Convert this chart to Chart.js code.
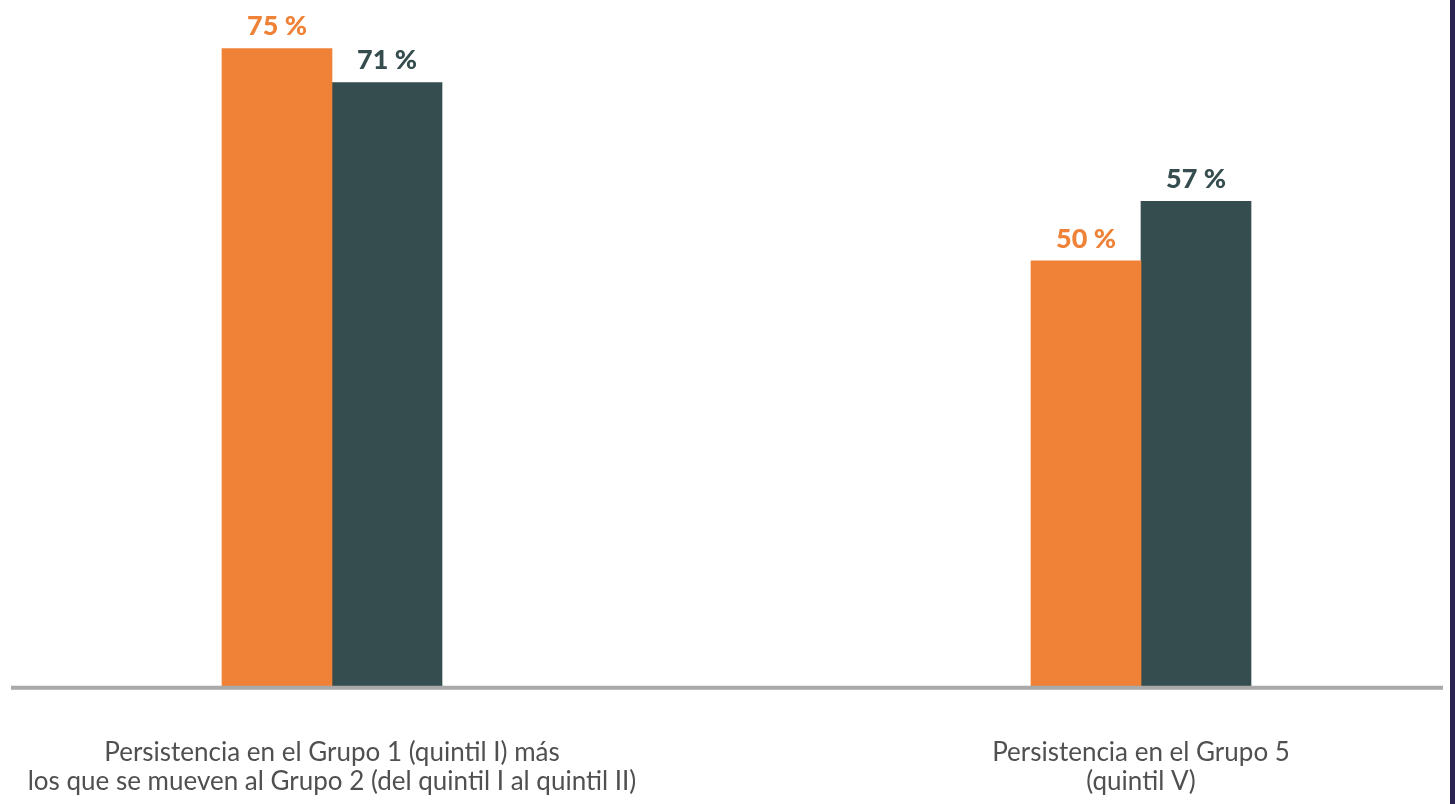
<!DOCTYPE html>
<html>
<head>
<meta charset="utf-8">
<script src="https://cdn.jsdelivr.net/npm/chart.js@4.4.1/dist/chart.umd.min.js"></script>
<style>
  html, body { margin: 0; padding: 0; background: #ffffff; }
  body { width: 1455px; height: 804px; position: relative; overflow: hidden; }
  #wrap { position: absolute; left: 0; top: 0; width: 1450px; height: 848px; background: #ffffff; }
  #edge { position: absolute; left: 1450px; top: 0; width: 5px; height: 804px; background: #2b2352; }
</style>
</head>
<body>
<div id="wrap"><canvas id="c"></canvas></div>
<div id="edge"></div>
<script>
// ---- data ----
const categories = [
  ['Persistencia en el Grupo 1 (quintil I) más', 'los que se mueven al Grupo 2 (del quintil I al quintil II)'],
  ['Persistencia en el Grupo 5', '(quintil V)']
];
const seriesNames = ['Serie 1', 'Serie 2'];
const seriesOrange = [75, 50];
const seriesDark = [71, 57];
const valueSuffix = ' %';

// ---- styles ----
const ORANGE = '#ef8237';
const DARK = '#354d4f';

const valueLabels = {
  id: 'valueLabels',
  afterDatasetsDraw(chart) {
    const ctx = chart.ctx;
    ctx.save();
    ctx.font = '900 27px Lato';
    ctx.textAlign = 'center';
    ctx.textBaseline = 'alphabetic';
    chart.data.datasets.forEach((ds, di) => {
      const meta = chart.getDatasetMeta(di);
      ctx.fillStyle = ds.labelColor;
      meta.data.forEach((el, i) => {
        ctx.fillText(ds.data[i] + valueSuffix, el.x, el.y - 13);
      });
    });
    ctx.restore();
  }
};

const baseLine = {
  id: 'baseLine',
  afterDatasetsDraw(chart) {
    const ctx = chart.ctx;
    const y = chart.scales.y.getPixelForValue(0) + 2;
    ctx.save();
    ctx.strokeStyle = '#a9a9a9';
    ctx.lineWidth = 4;
    ctx.beginPath();
    ctx.moveTo(11, y);
    ctx.lineTo(1443, y);
    ctx.stroke();
    ctx.restore();
  }
};

new Chart(document.getElementById('c'), {
  type: 'bar',
  data: {
    labels: categories,
    datasets: [
      { label: seriesNames[0], data: seriesOrange, backgroundColor: ORANGE, labelColor: ORANGE, clip: false },
      { label: seriesNames[1], data: seriesDark, backgroundColor: DARK, labelColor: DARK, clip: false }
    ]
  },
  options: {
    responsive: true,
    maintainAspectRatio: false,
    animation: false,
    barThickness: 110,
    layout: { padding: { left: 332, right: 309, top: 6, bottom: 0 } },
    plugins: { legend: { display: false }, tooltip: { enabled: false } },
    scales: {
      x: {
        type: 'category',
        offset: false,
        grid: { display: false, drawTicks: false },
        border: { display: false },
        afterFit(scale) { scale.paddingLeft = 0; scale.paddingRight = 0; },
        ticks: {
          autoSkip: false,
          maxRotation: 0,
          padding: 52,
          color: '#505050',
          font: { family: 'Lato', size: 26, lineHeight: 1.12 }
        }
      },
      y: { display: false, min: 0, max: 80 }
    }
  },
  plugins: [valueLabels, baseLine]
});
</script>
</body>
</html>
